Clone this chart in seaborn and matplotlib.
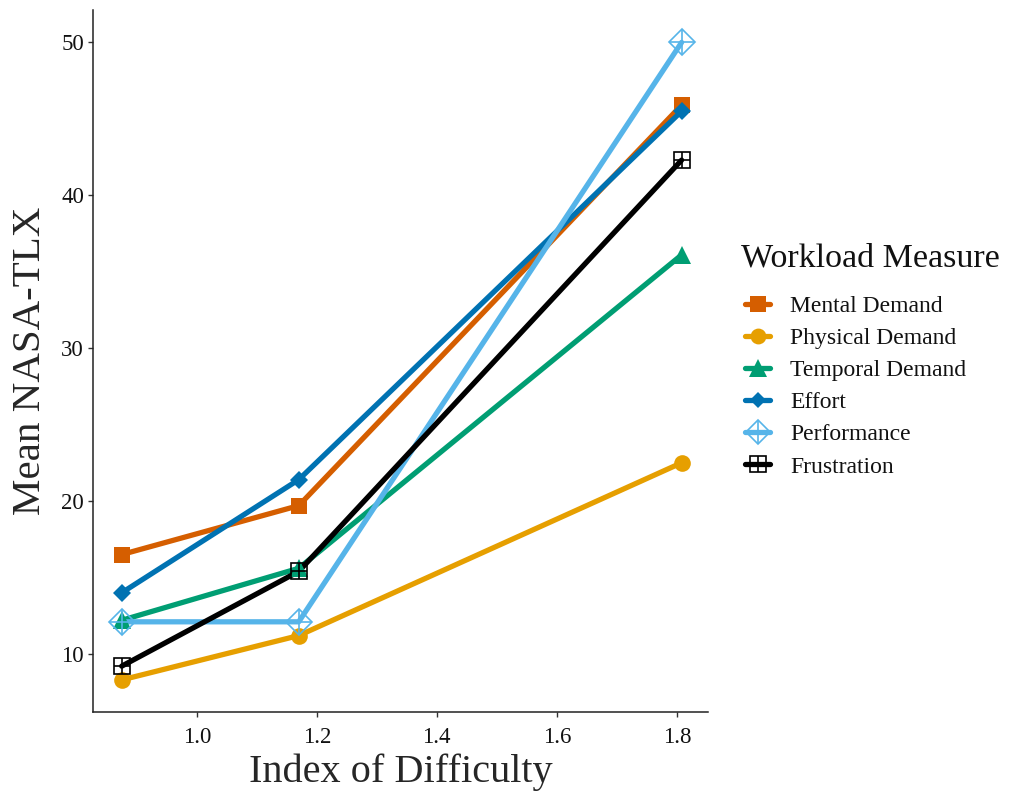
import numpy as np
import pandas as pd
import seaborn as sns
import matplotlib
matplotlib.use("Agg")
import matplotlib.pyplot as plt
from matplotlib.lines import Line2D

index_of_difficulty = [0.875, 1.17, 1.808]
measures = ["Mental Demand", "Physical Demand", "Temporal Demand", "Effort", "Performance", "Frustration"]
mental = [16.5, 19.7, 45.9]
physical = [8.3, 11.2, 22.5]
temporal = [12.2, 15.6, 36.1]
effort = [14.0, 21.4, 45.5]
performance = [12.1, 12.1, 50.0]
frustration = [9.2, 15.4, 42.3]
colors = ["#D55E00", "#E69F00", "#009E73", "#0072B2", "#56B4E9", "#000000"]

values = [mental, physical, temporal, effort, performance, frustration]
rows = []
for m, vals in zip(measures, values):
    for x, v in zip(index_of_difficulty, vals):
        rows.append({"ID": x, "TLX": v, "Measure": m})
df = pd.DataFrame(rows)

sns.set_style("ticks")
plt.rcParams["font.family"] = ["Liberation Serif", "DejaVu Serif"]

fig = plt.figure(figsize=(10.1, 7.92), dpi=100)
ax = fig.add_axes([0.092, 0.101, 0.609, 0.886])

palette = dict(zip(measures, colors))
LW = 3.8
sns.lineplot(data=df, x="ID", y="TLX", hue="Measure", palette=palette,
             hue_order=measures, linewidth=LW, ax=ax, legend=False, sort=True)

# marker styles (ggplot-like shapes)
marker_specs = {
    "Mental Demand": [dict(marker="s", ms=12, mfc=colors[0], mec=colors[0], mew=0)],
    "Physical Demand": [dict(marker="o", ms=12, mfc=colors[1], mec=colors[1], mew=0)],
    "Temporal Demand": [dict(marker="^", ms=13, mfc=colors[2], mec=colors[2], mew=0)],
    "Effort": [dict(marker="D", ms=9, mfc=colors[3], mec=colors[3], mew=0)],
    "Performance": [dict(marker="D", ms=13, mfc="none", mec=colors[4], mew=1.2),
                    dict(marker="+", ms=17, mfc="none", mec=colors[4], mew=1.2)],
    "Frustration": [dict(marker="s", ms=12, mfc="none", mec=colors[5], mew=1.2),
                    dict(marker="+", ms=12, mfc="none", mec=colors[5], mew=1.2)],
}
for m, vals in zip(measures, values):
    for spec in marker_specs[m]:
        ax.plot(index_of_difficulty, vals, linestyle="none", **spec)

ax.set_xlim(0.827, 1.852)
ax.set_ylim(6.2, 52.1)
ax.set_xticks([1.0, 1.2, 1.4, 1.6, 1.8])
ax.set_yticks([10, 20, 30, 40, 50])
ax.tick_params(axis="both", labelsize=16.5, length=3.5, width=1, color="#333333",
               labelcolor="#111111")
ax.tick_params(axis="x", pad=7)
ax.tick_params(axis="y", pad=3)
ax.set_xlabel("Index of Difficulty", fontsize=29, labelpad=4)
ax.set_ylabel("Mean NASA-TLX", fontsize=29.5, labelpad=9)
for s in ["left", "bottom"]:
    ax.spines[s].set_linewidth(1.1)
    ax.spines[s].set_color("#222222")
sns.despine(ax=ax)

handles = []
for m, c in zip(measures, colors):
    hs = []
    for i, spec in enumerate(marker_specs[m]):
        sp = dict(spec)
        sp["ms"] = sp["ms"] * 0.95
        hs.append(Line2D([0], [0], color=c, linewidth=LW if i == 0 else 0, **sp))
    handles.append(tuple(hs) if len(hs) > 1 else hs[0])

fig.text(741 / 1010, 1 - 258 / 792, "Workload Measure", fontsize=24.5,
         ha="left", va="center", color="#111111")
leg = fig.legend(handles, measures, loc="center left", bbox_to_anchor=(0.738, 0.512),
                 frameon=False, fontsize=17, borderaxespad=0, borderpad=0,
                 handlelength=1.05, handletextpad=0.85, labelspacing=0.45)
for t in leg.get_texts():
    t.set_color("#111111")

fig.savefig("out.png", dpi=100)
